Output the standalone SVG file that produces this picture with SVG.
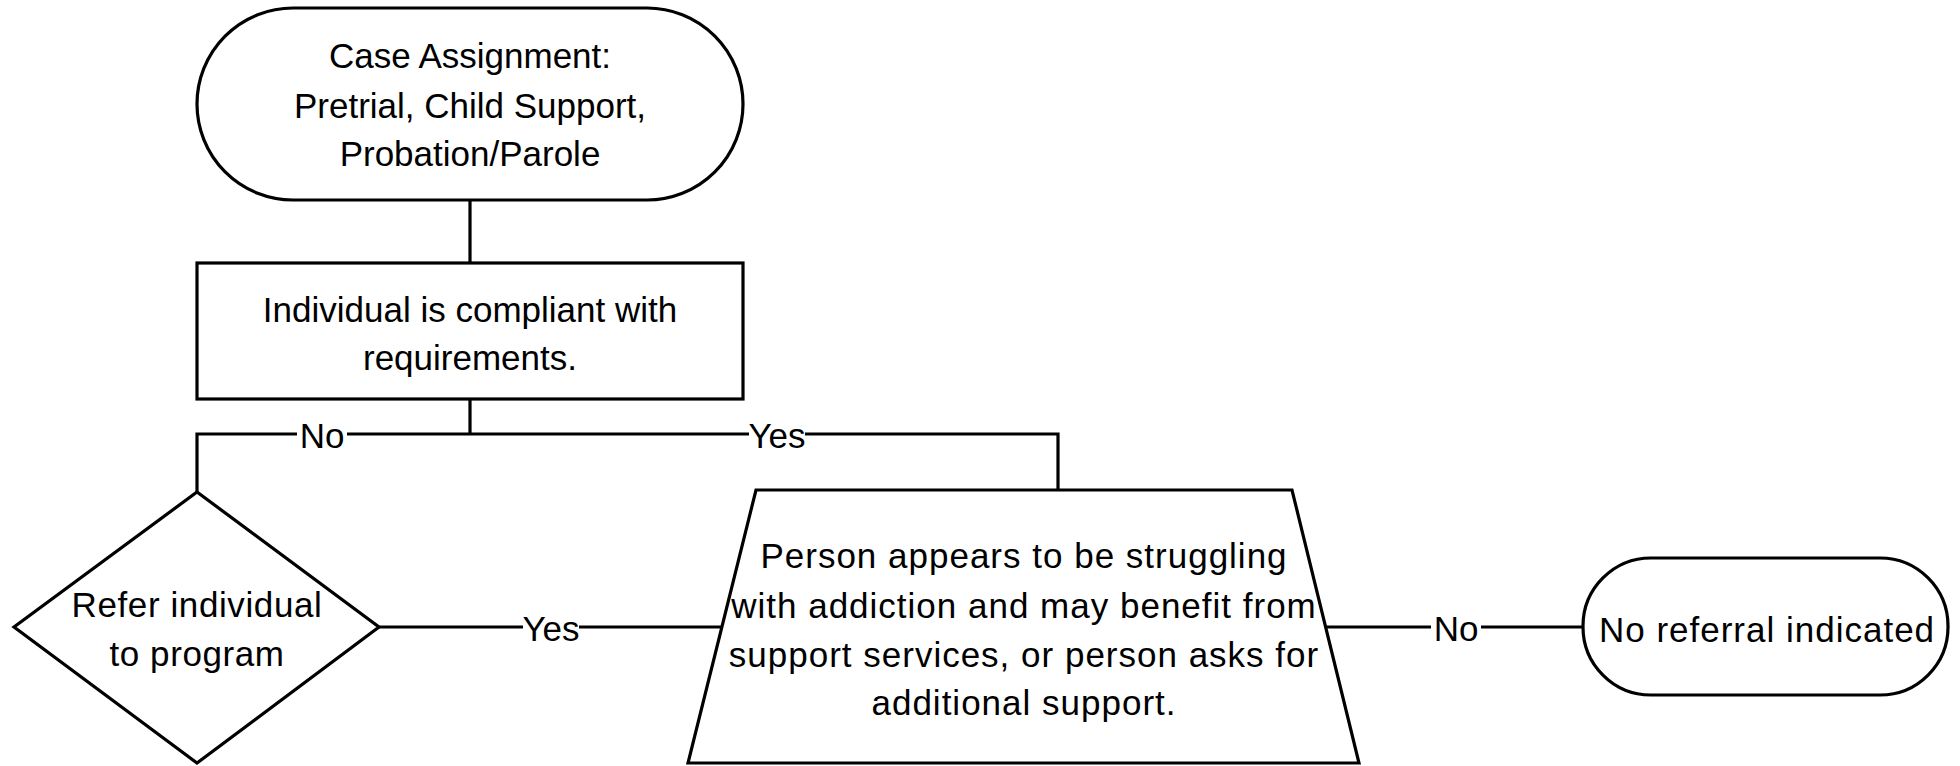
<svg xmlns="http://www.w3.org/2000/svg" width="1960" height="766" viewBox="0 0 1960 766">
<style>
.shape{fill:#ffffff;stroke:#000000;stroke-width:3.2;stroke-linejoin:miter}
.conn{fill:none;stroke:#000000;stroke-width:3.2}
text{font-family:"Liberation Sans",Arial,sans-serif;font-size:35px;fill:#000000;text-anchor:middle}
.lblbg{fill:#ffffff;stroke:none}
</style>
<rect width="1960" height="766" fill="#ffffff"/>
<g id="connectors">
<line class="conn" x1="470" y1="200" x2="470" y2="263"/>
<line class="conn" x1="470" y1="399" x2="470" y2="434"/>
<polyline class="conn" points="197,492 197,434 1058,434 1058,490"/>
<line class="conn" x1="379" y1="627" x2="722" y2="627"/>
<line class="conn" x1="1326" y1="627" x2="1583" y2="627"/>
<rect class="lblbg" x="297" y="420" width="50" height="30"/>
<text x="322" y="448">No</text>
<rect class="lblbg" x="749" y="420" width="56" height="30"/>
<text x="777" y="448">Yes</text>
<rect class="lblbg" x="523" y="612" width="56" height="30"/>
<text x="551" y="641">Yes</text>
<rect class="lblbg" x="1431" y="612" width="50" height="30"/>
<text x="1456" y="641">No</text>
</g>
<g id="case-assignment">
<rect class="shape" x="197" y="8" width="546" height="192" rx="96" ry="96"/>
<text x="470" y="68">Case Assignment:</text>
<text x="470" y="118">Pretrial, Child Support,</text>
<text x="470" y="166">Probation/Parole</text>
</g>
<g id="compliant">
<rect class="shape" x="197" y="263" width="546" height="136"/>
<text x="470" y="322">Individual is compliant with</text>
<text x="470" y="370">requirements.</text>
</g>
<g id="refer">
<polygon class="shape" points="197,492 379,627 197,763 14,627"/>
<text x="197" y="617" letter-spacing="0.6">Refer individual</text>
<text x="197" y="666" letter-spacing="0.6">to program</text>
</g>
<g id="struggling">
<polygon class="shape" points="756,490 1292,490 1359,763 688,763"/>
<text x="1024" y="568" letter-spacing="1">Person appears to be struggling</text>
<text x="1024" y="618" letter-spacing="1">with addiction and may benefit from</text>
<text x="1024" y="667" letter-spacing="1">support services, or person asks for</text>
<text x="1024" y="715" letter-spacing="1">additional support.</text>
</g>
<g id="no-referral">
<rect class="shape" x="1583" y="558" width="365" height="137" rx="68" ry="68"/>
<text x="1767" y="642" letter-spacing="1">No referral indicated</text>
</g>
</svg>
